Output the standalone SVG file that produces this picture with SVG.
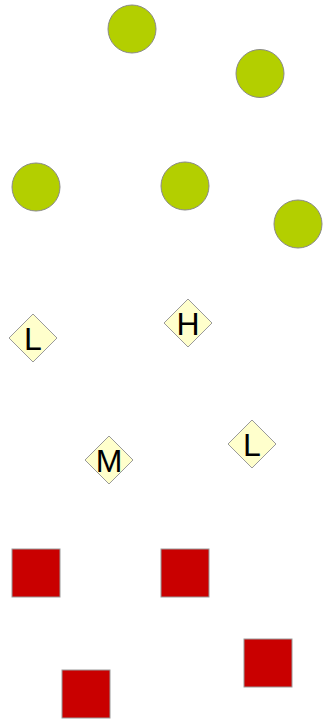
<svg xmlns="http://www.w3.org/2000/svg" width="325" height="719" viewBox="0 0 325 719">
  <style>
    .circle { fill: #b3cf00; stroke: #8a8a8a; stroke-width: 1; }
    .diamond { fill: #ffffcc; stroke: #9a9a9a; stroke-width: 1; }
    .square { fill: #c90000; stroke: #9a9a9a; stroke-width: 1; }
    .label { font-family: "Liberation Sans", Arial, sans-serif; font-size: 32px; fill: #000; text-anchor: middle; }
  </style>
  <rect width="325" height="719" fill="#ffffff"/>
  <g id="connectors"></g>
  <g id="circle-1"><circle class="circle" cx="132" cy="29" r="24"/></g>
  <g id="circle-2"><circle class="circle" cx="260" cy="73.5" r="24"/></g>
  <g id="circle-3"><circle class="circle" cx="36" cy="187" r="24"/></g>
  <g id="circle-4"><circle class="circle" cx="185" cy="186" r="24"/></g>
  <g id="circle-5"><circle class="circle" cx="298" cy="224" r="24"/></g>
  <g id="diamond-L1"><polygon class="diamond" points="33,314 57,338 33,362 9,338"/><text class="label" x="33" y="350">L</text></g>
  <g id="diamond-H"><polygon class="diamond" points="188,299 212,323 188,347 164,323"/><text class="label" x="188" y="335">H</text></g>
  <g id="diamond-M"><polygon class="diamond" points="109,436 133,460 109,484 85,460"/><text class="label" x="109" y="472">M</text></g>
  <g id="diamond-L2"><polygon class="diamond" points="252,420 276,444 252,468 228,444"/><text class="label" x="252" y="456">L</text></g>
  <g id="square-1"><rect class="square" x="12" y="549" width="48" height="48"/></g>
  <g id="square-2"><rect class="square" x="161" y="549" width="48" height="48"/></g>
  <g id="square-3"><rect class="square" x="244" y="639" width="48" height="48"/></g>
  <g id="square-4"><rect class="square" x="62" y="670" width="48" height="48"/></g>
</svg>
